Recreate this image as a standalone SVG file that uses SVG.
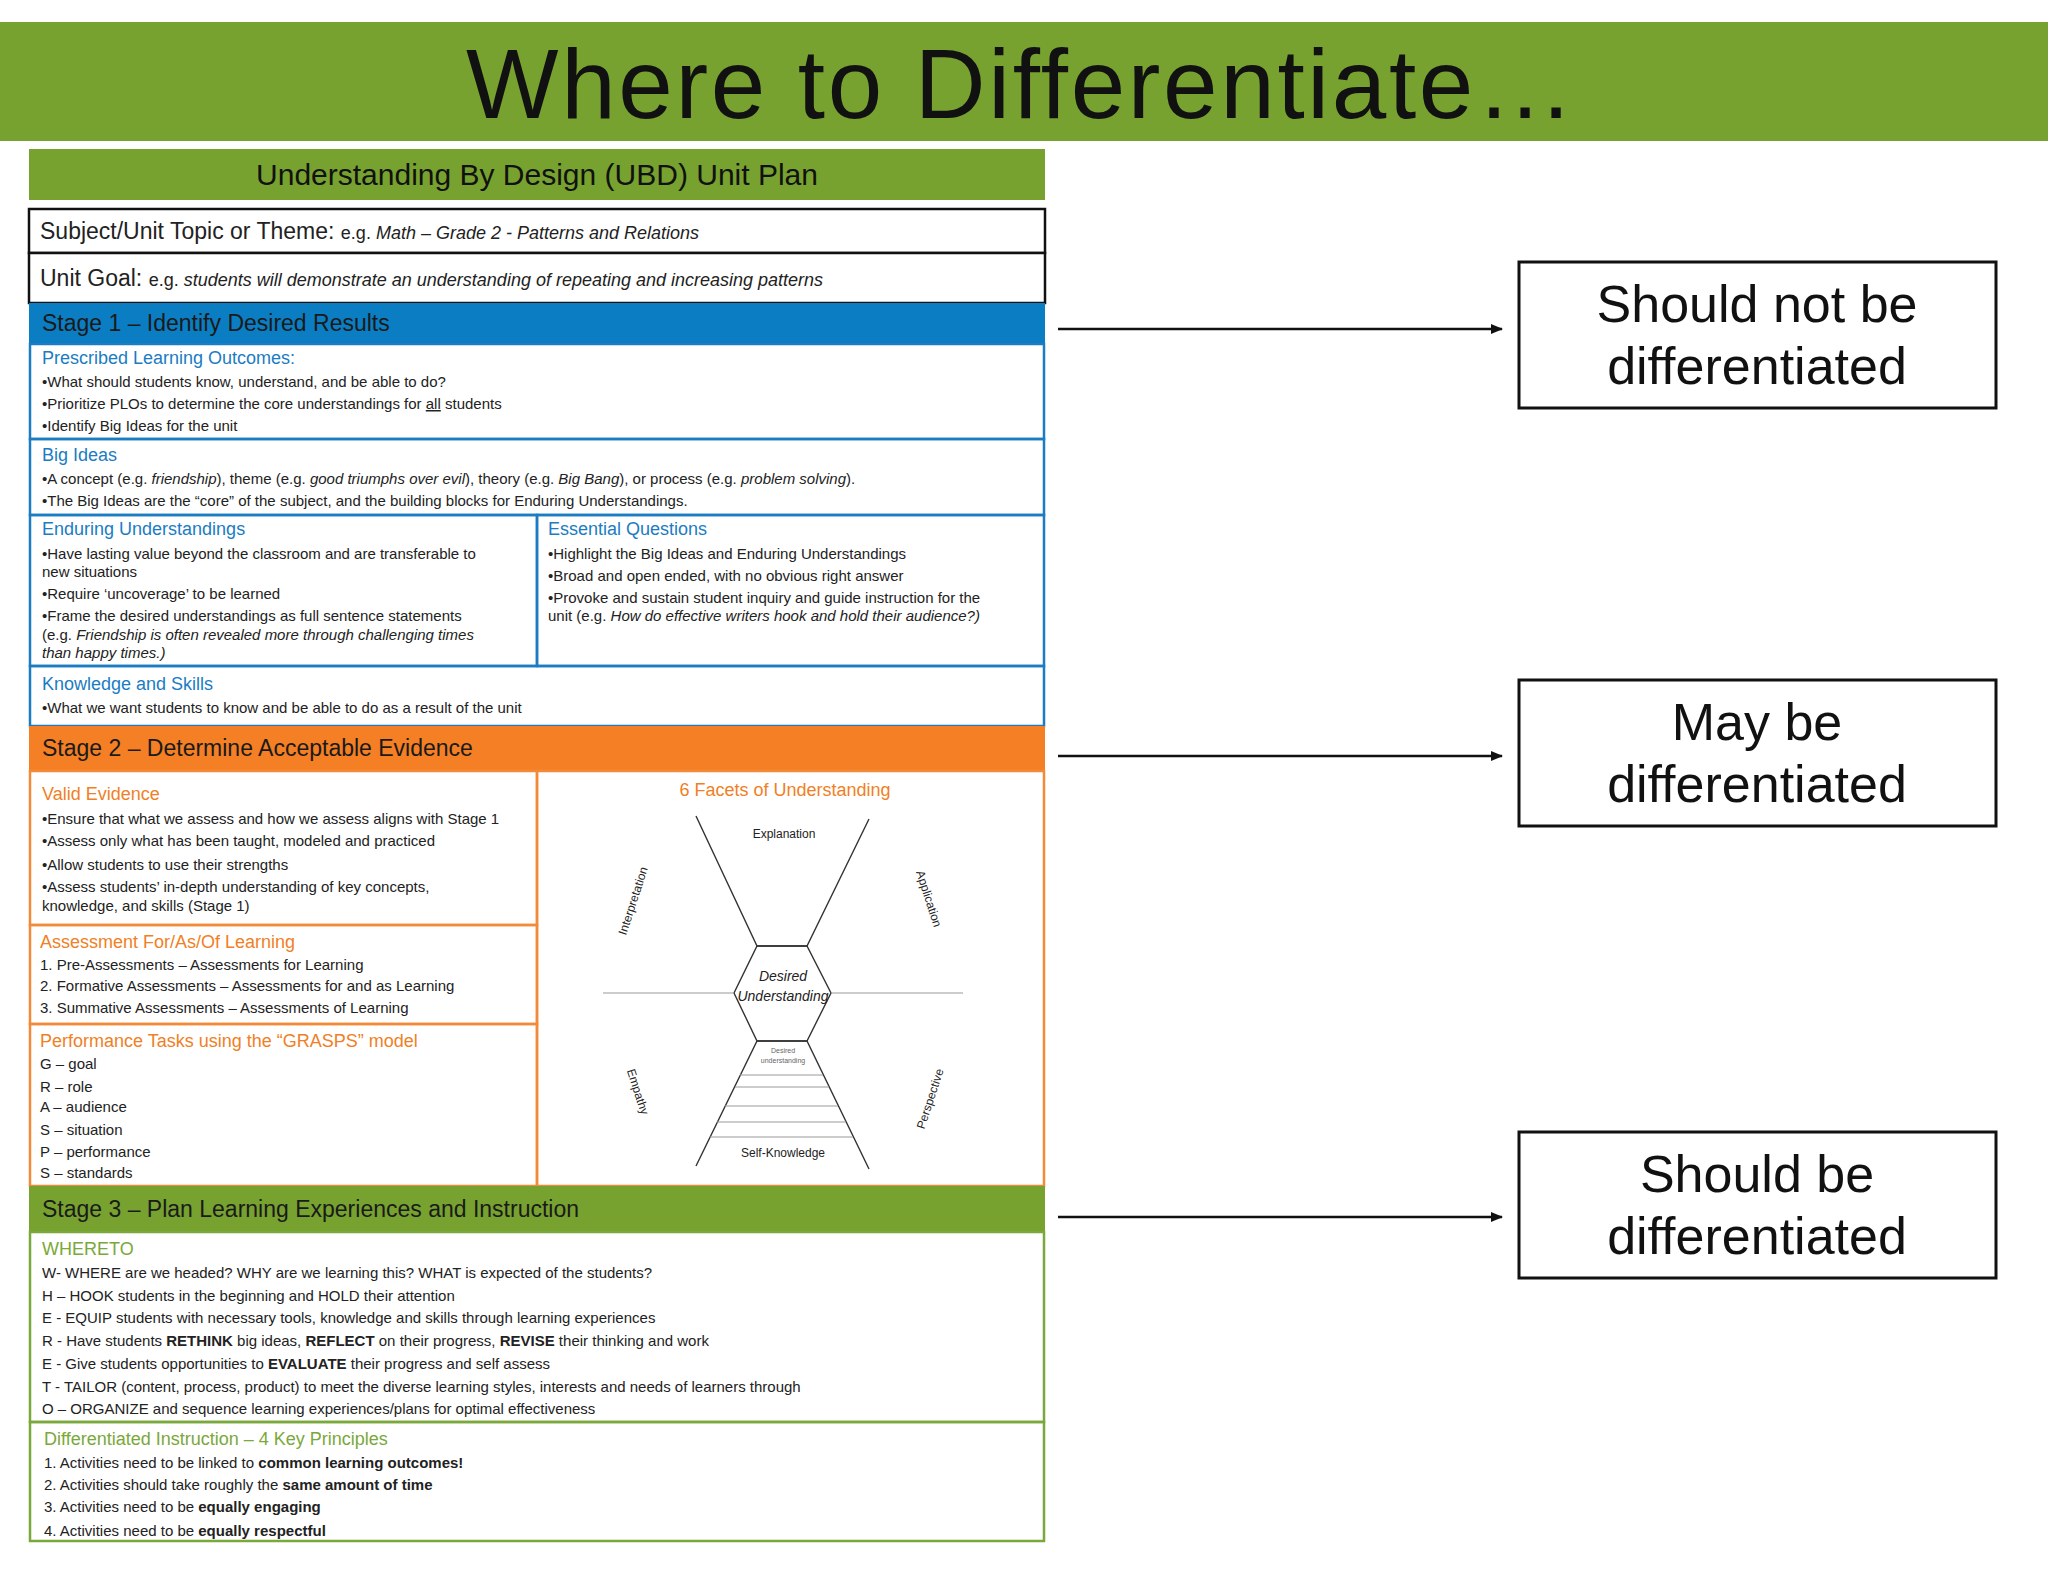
<svg xmlns="http://www.w3.org/2000/svg" width="2048" height="1582" viewBox="0 0 2048 1582">
<style>
text{font-family:"Liberation Sans","DejaVu Sans",sans-serif;fill:#222}
.t{font-size:15px}
.hb{font-size:18px;fill:#1b7cc3}
.ho{font-size:18px;fill:#f07f26}
.hg{font-size:18px;fill:#7aa83a}
.bar{font-size:23px;fill:#1a1a1a}
.box{fill:#fff;stroke:#111;stroke-width:3}
.big{font-size:52px;fill:#111;text-anchor:middle}
.bl{fill:none;stroke:#1b7cc3;stroke-width:2.5}
.or{fill:none;stroke:#f28a3a;stroke-width:2.5}
.gr{fill:none;stroke:#7aa83a;stroke-width:2.5}
.fl{stroke:#333;stroke-width:1.4;fill:none}
.fr{stroke:#999;stroke-width:1.2}
.sm{font-size:12px;text-anchor:middle;fill:#222}
.conn line{stroke:#111;stroke-width:2.5}
</style>
<defs><marker id="ah" markerWidth="12" markerHeight="10" refX="11" refY="5" orient="auto" markerUnits="userSpaceOnUse"><path d="M0,0 L12,5 L0,10 z" fill="#111"/></marker></defs>
<rect width="2048" height="1582" fill="#fff"/>
<g id="banner"><rect x="0" y="22" width="2048" height="119" fill="#77a22f"/>
<text x="1020" y="118" font-size="98" text-anchor="middle" textLength="1108" style="fill:#111">Where to Differentiate…</text></g>
<g id="ubd">
<rect x="29" y="149" width="1016" height="51" fill="#78a22f"/>
<text x="537" y="185" font-size="30" text-anchor="middle" style="fill:#111">Understanding By Design (UBD) Unit Plan</text>
<rect x="29" y="209" width="1016" height="44" fill="#fff" stroke="#111" stroke-width="2.5"/>
<text x="40" y="239" font-size="23">Subject/Unit Topic or Theme: <tspan font-size="18">e.g.  <tspan font-style="italic">Math – Grade 2 - Patterns and Relations</tspan></tspan></text>
<rect x="29" y="253" width="1016" height="50" fill="#fff" stroke="#111" stroke-width="2.5"/>
<text x="40" y="286" font-size="23">Unit Goal:  <tspan font-size="18">e.g. <tspan font-style="italic">students will demonstrate an understanding of repeating and increasing patterns</tspan></tspan></text>
<rect x="29" y="303" width="1016" height="41" fill="#0b7dc2"/>
<text x="42" y="331" class="bar">Stage 1 – Identify Desired Results</text>
<rect x="30" y="344" width="1014" height="95" class="bl"/>
<text x="42" y="364" class="hb">Prescribed Learning Outcomes:</text>
<text x="42" y="387" class="t">•What should students know, understand, and be able to do?</text>
<text x="42" y="409" class="t">•Prioritize PLOs to determine the core understandings for <tspan text-decoration="underline">all</tspan> students</text>
<text x="42" y="431" class="t">•Identify Big Ideas for the unit</text>
<rect x="30" y="439" width="1014" height="76" class="bl"/>
<text x="42" y="461" class="hb">Big Ideas</text>
<text x="42" y="484" class="t">•A concept (e.g. <tspan font-style="italic">friendship</tspan>), theme (e.g. <tspan font-style="italic">good triumphs over evil</tspan>), theory (e.g. <tspan font-style="italic">Big Bang</tspan>), or process (e.g. <tspan font-style="italic">problem solving</tspan>).</text>
<text x="42" y="506" class="t">•The Big Ideas are the “core” of the subject, and the building blocks for Enduring Understandings.</text>
<rect x="30" y="515" width="507" height="151" class="bl"/>
<rect x="537" y="515" width="507" height="151" class="bl"/>
<text x="42" y="535" class="hb">Enduring Understandings</text>
<text x="42" y="559" class="t">•Have lasting value beyond the classroom and are transferable to</text>
<text x="42" y="577" class="t">new situations</text>
<text x="42" y="599" class="t">•Require ‘uncoverage’ to be learned</text>
<text x="42" y="621" class="t">•Frame the desired understandings as full sentence statements</text>
<text x="42" y="640" class="t">(e.g. <tspan font-style="italic">Friendship is often revealed more through challenging times</tspan></text>
<text x="42" y="658" class="t" font-style="italic">than happy times.)</text>
<text x="548" y="535" class="hb">Essential Questions</text>
<text x="548" y="559" class="t">•Highlight the Big Ideas and Enduring Understandings</text>
<text x="548" y="581" class="t">•Broad and open ended, with no obvious right answer</text>
<text x="548" y="603" class="t">•Provoke and sustain student inquiry and guide instruction for the</text>
<text x="548" y="621" class="t">unit (e.g. <tspan font-style="italic">How do effective writers hook and hold their audience?)</tspan></text>
<rect x="30" y="666" width="1014" height="60" class="bl"/>
<text x="42" y="690" class="hb">Knowledge and Skills</text>
<text x="42" y="713" class="t">•What we want students to know and be able to do as a result of the unit</text>
<rect x="29" y="726" width="1016" height="45" fill="#f47f24"/>
<text x="42" y="756" class="bar">Stage 2 – Determine Acceptable Evidence</text>
<rect x="30" y="771" width="507" height="154" class="or"/>
<text x="42" y="800" class="ho">Valid Evidence</text>
<text x="42" y="824" class="t">•Ensure that what we assess and how we assess aligns with Stage 1</text>
<text x="42" y="846" class="t">•Assess only what has been taught, modeled and practiced</text>
<text x="42" y="870" class="t">•Allow students to use their strengths</text>
<text x="42" y="892" class="t">•Assess students’ in-depth understanding of key concepts,</text>
<text x="42" y="911" class="t">knowledge, and skills (Stage 1)</text>
<rect x="30" y="925" width="507" height="99" class="or"/>
<text x="40" y="948" class="ho">Assessment For/As/Of Learning</text>
<text x="40" y="970" class="t">1.    Pre-Assessments – Assessments for Learning</text>
<text x="40" y="991" class="t">2.    Formative Assessments – Assessments for and as Learning</text>
<text x="40" y="1013" class="t">3.    Summative Assessments – Assessments of Learning</text>
<rect x="30" y="1024" width="507" height="162" class="or"/>
<rect x="537" y="771" width="507" height="415" class="or"/>
<text x="40" y="1047" class="ho">Performance Tasks using the “GRASPS” model</text>
<text x="40" y="1069" class="t">G –  goal</text>
<text x="40" y="1092" class="t">R –  role</text>
<text x="40" y="1112" class="t">A –  audience</text>
<text x="40" y="1135" class="t">S –  situation</text>
<text x="40" y="1157" class="t">P –  performance</text>
<text x="40" y="1178" class="t">S –  standards</text>
<text x="785" y="796" class="ho" text-anchor="middle">6 Facets of Understanding</text>
<g id="facets">
<polyline class="fl" points="696,816 757,946 807,946 869,819"/>
<polygon class="fl" points="757,946 807,946 831,993 807,1041 757,1041 734,993"/>
<polyline class="fl" points="696,1166 757,1041 807,1041 869,1169"/>
<line class="fr" x1="603" y1="993" x2="734" y2="993"/>
<line class="fr" x1="831" y1="993" x2="963" y2="993"/>
<line class="fr" x1="740" y1="1075" x2="823" y2="1075"/>
<line class="fr" x1="735" y1="1087" x2="829" y2="1087"/>
<line class="fr" x1="725" y1="1106" x2="838" y2="1106"/>
<line class="fr" x1="717" y1="1122" x2="846" y2="1122"/>
<line class="fr" x1="710" y1="1137" x2="853" y2="1137"/>
<text x="784" y="838" class="sm">Explanation</text>
<text class="sm" transform="translate(637,902) rotate(-72)">Interpretation</text>
<text class="sm" transform="translate(925,900) rotate(72)">Application</text>
<text class="sm" transform="translate(634,1093) rotate(72)">Empathy</text>
<text class="sm" transform="translate(934,1100) rotate(-72)">Perspective</text>
<text x="783" y="1157" class="sm">Self-Knowledge</text>
<text x="783" y="981" font-size="14" font-style="italic" text-anchor="middle">Desired</text>
<text x="783" y="1001" font-size="14" font-style="italic" text-anchor="middle">Understanding</text>
<text x="783" y="1053" font-size="7" text-anchor="middle" style="fill:#666">Desired</text>
<text x="783" y="1063" font-size="7" text-anchor="middle" style="fill:#666">understanding</text>
</g>
<rect x="29" y="1186" width="1016" height="46" fill="#77a22f"/>
<text x="42" y="1217" class="bar">Stage 3 – Plan Learning Experiences and Instruction</text>
<rect x="30" y="1232" width="1014" height="190" class="gr"/>
<text x="42" y="1255" class="hg">WHERETO</text>
<text x="42" y="1278" class="t">W- WHERE are we headed? WHY are we learning this? WHAT is expected of the students?</text>
<text x="42" y="1301" class="t">H – HOOK students in the beginning and HOLD their attention</text>
<text x="42" y="1323" class="t">E - EQUIP students with necessary tools, knowledge and skills through learning experiences</text>
<text x="42" y="1346" class="t">R - Have students <tspan font-weight="bold">RETHINK</tspan> big ideas, <tspan font-weight="bold">REFLECT</tspan> on their progress, <tspan font-weight="bold">REVISE</tspan> their thinking and work</text>
<text x="42" y="1369" class="t">E - Give students opportunities to <tspan font-weight="bold">EVALUATE</tspan> their progress and self assess</text>
<text x="42" y="1392" class="t">T - TAILOR (content, process, product) to meet the diverse learning styles, interests and needs of learners through</text>
<text x="42" y="1414" class="t">O – ORGANIZE and sequence learning experiences/plans for optimal effectiveness</text>
<rect x="30" y="1422" width="1014" height="119" class="gr"/>
<text x="44" y="1445" class="hg">Differentiated Instruction – 4 Key Principles</text>
<text x="44" y="1468" class="t">1.     Activities need to be linked to <tspan font-weight="bold">common learning outcomes!</tspan></text>
<text x="44" y="1490" class="t">2.     Activities should take roughly the <tspan font-weight="bold">same amount of time</tspan></text>
<text x="44" y="1512" class="t">3.     Activities need to be <tspan font-weight="bold">equally engaging</tspan></text>
<text x="44" y="1536" class="t">4.     Activities need to be <tspan font-weight="bold">equally respectful</tspan></text>
</g>
<g id="box1"><rect class="box" x="1519" y="262" width="477" height="146"/>
<text class="big" x="1757" y="322">Should not be</text><text class="big" x="1757" y="384">differentiated</text></g>
<g id="box2"><rect class="box" x="1519" y="680" width="477" height="146"/>
<text class="big" x="1757" y="740">May be</text><text class="big" x="1757" y="802">differentiated</text></g>
<g id="box3"><rect class="box" x="1519" y="1132" width="477" height="146"/>
<text class="big" x="1757" y="1192">Should be</text><text class="big" x="1757" y="1254">differentiated</text></g>
<g class="conn" id="connectors">
<line x1="1058" y1="329" x2="1502" y2="329" marker-end="url(#ah)"/>
<line x1="1058" y1="756" x2="1502" y2="756" marker-end="url(#ah)"/>
<line x1="1058" y1="1217" x2="1502" y2="1217" marker-end="url(#ah)"/>
</g>
</svg>
